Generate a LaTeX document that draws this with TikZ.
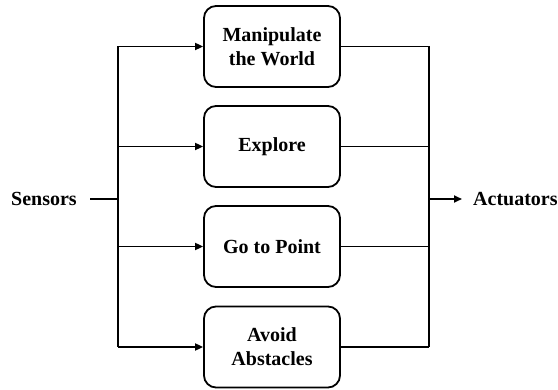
\documentclass[tikz,border=0pt]{standalone}
\usepackage{fontspec}
\setmainfont{Liberation Serif}
\usetikzlibrary{arrows.meta}
\begin{document}
\begin{tikzpicture}[x=1pt,y=-1pt,
  box/.style={draw, line width=1.8pt, rounded corners=12pt, minimum width=136pt, minimum height=81pt, align=center, font=\fontsize{20}{24}\selectfont\bfseries, inner sep=0pt},
  lbl/.style={font=\fontsize{20}{24}\selectfont\bfseries, inner sep=0pt},
  wire/.style={line width=1.8pt},
  arr/.style={wire, -{Triangle[length=8pt,width=7pt]}}]
\useasboundingbox (0,0) rectangle (558,390);
\node[box] (b1) at (272,46.5) {Manipulate\\the World};
\node[box] (b2) at (272,146.5) {Explore};
\node[box] (b3) at (272,246.5) {Go to Point};
\node[box] (b4) at (272,347) {Avoid\\Abstacles};
\node[lbl, anchor=west] (s) at (11,199) {Sensors};
\node[lbl, anchor=west] (a) at (473,199) {Actuators};
\coordinate (sl) at (90,199);
\coordinate (lb) at (118,199);
\coordinate (rb) at (429,199);
\coordinate (ae) at (462,199);
\draw[wire] (sl) -- (lb);
\draw[wire] (b1.west -| lb) -- (b4.west -| lb);
\draw[wire] (b1.east -| rb) -- (b4.east -| rb);
\foreach \b in {b1,b2,b3,b4}{
  \draw[arr] (\b.west -| lb) -- (\b.west);
  \draw[wire] (\b.east) -- (\b.east -| rb);
}
\draw[arr] (rb) -- (ae);
\end{tikzpicture}
\end{document}
